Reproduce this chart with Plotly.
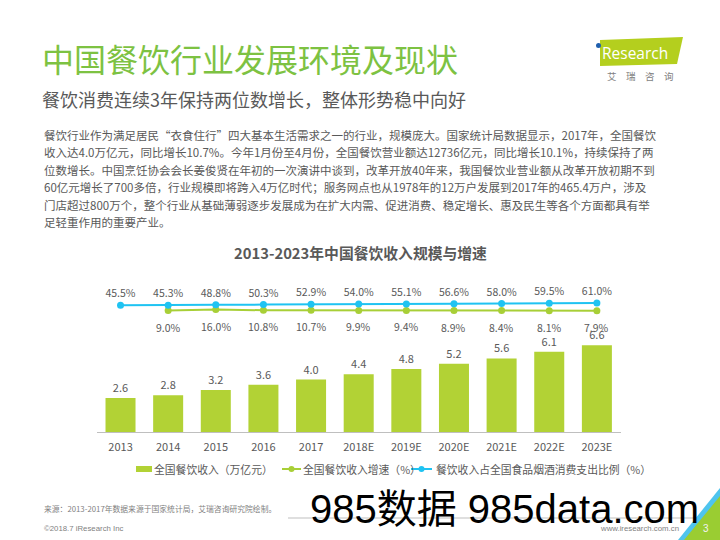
import plotly.graph_objects as go

# ---------------- data ----------------
years = ["2013", "2014", "2015", "2016", "2017", "2018E", "2019E",
         "2020E", "2021E", "2022E", "2023E"]
revenue = [2.6, 2.8, 3.2, 3.6, 4.0, 4.4, 4.8, 5.2, 5.6, 6.1, 6.6]          # 万亿元
growth = [None, 9.0, 16.0, 10.8, 10.7, 9.9, 9.4, 8.9, 8.4, 8.1, 7.9]     # %
share = [45.5, 45.3, 48.8, 50.3, 52.9, 54.0, 55.1, 56.6, 58.0, 59.5, 61.0]  # %

legend_names = ["全国餐饮收入（万亿元）", "全国餐饮收入增速（%）",
                "餐饮收入占全国食品烟酒消费支出比例（%）"]

title = "中国餐饮行业发展环境及现状"
subtitle = "餐饮消费连续3年保持两位数增长，整体形势稳中向好"
paragraph = [
    "餐饮行业作为满足居民“衣食住行”四大基本生活需求之一的行业，规模庞大。国家统计局数据显示，2017年，全国餐饮",
    "收入达4.0万亿元，同比增长10.7%。今年1月份至4月份，全国餐饮营业额达12736亿元，同比增长10.1%，持续保持了两",
    "位数增长。中国烹饪协会会长姜俊贤在年初的一次演讲中谈到，改革开放40年来，我国餐饮业营业额从改革开放初期不到",
    "60亿元增长了700多倍，行业规模即将跨入4万亿时代；服务网点也从1978年的12万户发展到2017年的465.4万户，涉及",
    "门店超过800万个，整个行业从基础薄弱逐步发展成为在扩大内需、促进消费、稳定增长、惠及民生等各个方面都具有举",
    "足轻重作用的重要产业。",
]
chart_title = "2013-2023年中国餐饮收入规模与增速"
source = "来源：2013-2017年数据来源于国家统计局，艾瑞咨询研究院绘制。"
copyright_txt = "©2018.7 iResearch Inc"
url_txt = "www.iresearch.com.cn"
watermark = "985数据 985data.com"

# ---------------- style ----------------
W, H = 720, 540
GREEN = "#B2D235"
LGREEN = "#A8CF37"
BLUE = "#1FC3F2"
TITLE_GREEN = "#7DC242"
GREY = "#595959"
FONT = "Noto Sans CJK SC"


def px(x):
    return x / W


def py(y):
    return 1 - y / H


fig = go.Figure()

fig.add_trace(go.Bar(
    x=years, y=revenue, name=legend_names[0],
    marker=dict(color=GREEN, line=dict(width=0)),
    width=0.63,
    text=[f"{v:.1f}" for v in revenue], textposition="outside",
    textfont=dict(size=11, color=GREY, family=FONT),
    cliponaxis=False, yaxis="y",
))

fig.add_trace(go.Scatter(
    x=years, y=growth, name=legend_names[1], yaxis="y2",
    mode="lines+markers",
    line=dict(color=LGREEN, width=2),
    marker=dict(color=LGREEN, size=7),
    cliponaxis=False, connectgaps=False,
))

fig.add_trace(go.Scatter(
    x=years, y=share, name=legend_names[2], yaxis="y2",
    mode="lines+markers+text",
    line=dict(color=BLUE, width=2),
    marker=dict(color=BLUE, size=7),
    text=[f"{v:.1f}%" for v in share],
    textposition="top center",
    textfont=dict(size=10.5, color=GREY, family=FONT),
    cliponaxis=False,
))

plot_top, plot_bot = 280, 432.3
bar_scale = 13.2   # px per unit
line_scale = 7.0   # units per px
line_zero = 311.8

shapes = []
annotations = []

# growth labels below the green points (x given as category index)
for i, g in enumerate(growth):
    if g is None:
        continue
    annotations.append(dict(
        x=i, y=g, xref="x", yref="y2", text=f"{g:.1f}%", showarrow=False,
        xanchor="center", yanchor="middle", yshift=-16.5,
        font=dict(size=10.5, color=GREY, family=FONT),
    ))


def text(x, y, s, size, color=GREY, anchor="left", family=FONT, bold=False):
    annotations.append(dict(
        x=px(x), y=py(y), xref="paper", yref="paper", text=(f"<b>{s}</b>" if bold else s),
        showarrow=False, xanchor=anchor, yanchor="middle",
        font=dict(size=size, color=color, family=family), borderpad=0,
    ))


# titles
text(41, 58, title, 32, TITLE_GREEN)
text(41, 99, subtitle, 18, GREY)
for i, line in enumerate(paragraph):
    text(43, 134.5 + i * 17.6, line, 11.5, GREY)
text(360, 252, chart_title, 14.8, GREY, anchor="center", bold=True)

# legend (manual)
ly = 469
shapes.append(dict(type="rect", xref="paper", yref="paper",
                   x0=px(136), x1=px(152), y0=py(472), y1=py(466),
                   fillcolor=GREEN, line=dict(width=0)))
text(153, ly, legend_names[0], 10.8)
shapes.append(dict(type="line", xref="paper", yref="paper",
                   x0=px(282), x1=px(301), y0=py(ly), y1=py(ly),
                   line=dict(color=LGREEN, width=2)))
shapes.append(dict(type="circle", xref="paper", yref="paper",
                   x0=px(288.5), x1=px(294.5), y0=py(ly + 3), y1=py(ly - 3),
                   fillcolor=LGREEN, line=dict(width=0)))
text(302, ly, legend_names[1], 10.8)
shapes.append(dict(type="line", xref="paper", yref="paper",
                   x0=px(411), x1=px(432), y0=py(ly), y1=py(ly),
                   line=dict(color=BLUE, width=2)))
shapes.append(dict(type="circle", xref="paper", yref="paper",
                   x0=px(418.5), x1=px(424.5), y0=py(ly + 3), y1=py(ly - 3),
                   fillcolor=BLUE, line=dict(width=0)))
text(435, ly, legend_names[2], 10.8)


# logo
def path(points):
    return "M " + " L ".join(f"{px(x)},{py(y)}" for x, y in points) + " Z"


shapes.append(dict(type="path", xref="paper", yref="paper",
                   path=path([(600, 40), (683, 37), (677, 64), (600, 66)]),
                   fillcolor="#B4CF1E", line=dict(width=0)))
shapes.append(dict(type="circle", xref="paper", yref="paper",
                   x0=px(596), x1=px(601), y0=py(48), y1=py(43),
                   fillcolor="#1F5FAE", line=dict(width=0)))
text(601, 53, "Research", 15.5, "white", family="Open Sans")
text(640, 76, "艾　瑞　咨　询", 9.5, "#7F7F7F", anchor="center")

# footer
shapes.append(dict(type="line", xref="paper", yref="paper",
                   x0=px(288), x1=px(698), y0=py(518), y1=py(518),
                   line=dict(color="#BFBFBF", width=1)))
text(43, 508, source, 7.8, "#7F7F7F")
text(43, 528, copyright_txt, 7.8, "#7F7F7F", family="Liberation Sans")
text(680, 528, url_txt, 7.8, "#7F7F7F", anchor="right", family="Liberation Sans")

shapes.append(dict(type="path", xref="paper", yref="paper",
                   path=path([(720, 488), (720, 505), (690, 540), (678, 540)]),
                   fillcolor="#4EC4EE", line=dict(width=0)))
shapes.append(dict(type="path", xref="paper", yref="paper",
                   path=path([(720, 496), (720, 540), (684, 540)]),
                   fillcolor="#9ACD32", line=dict(width=0)))
text(706, 528, "3", 10, "#F2F2F2", anchor="center", family="Liberation Sans")

# watermark
text(309, 509, watermark, 40, "#000000", family="Liberation Sans, Noto Sans CJK SC")

fig.update_layout(
    width=W, height=H,
    margin=dict(l=0, r=0, t=0, b=0),
    paper_bgcolor="white", plot_bgcolor="white",
    showlegend=False,
    bargap=0.37,
    hovermode=False,
    font=dict(family=FONT, color=GREY),
    xaxis=dict(domain=[px(96.7), px(620.7)], range=[-0.5, 10.5],
               type="category", showline=True, linecolor="#BFBFBF", linewidth=1,
               showgrid=False, zeroline=False,
               ticks="outside", ticklen=4, tickcolor="rgba(0,0,0,0)",
               tickfont=dict(size=11, color=GREY, family=FONT)),
    yaxis=dict(domain=[py(plot_bot), py(plot_top)],
               range=[0, (plot_bot - plot_top) / bar_scale],
               visible=False, showgrid=False, zeroline=False),
    yaxis2=dict(overlaying="y",
                range=[-(plot_bot - line_zero) * line_scale, (line_zero - plot_top) * line_scale],
                visible=False, showgrid=False, zeroline=False),
    shapes=shapes,
    annotations=annotations,
)

fig.write_html("out.html", config={"displayModeBar": False},
               post_script="document.body.style.margin='0px';document.body.style.overflow='hidden';")
